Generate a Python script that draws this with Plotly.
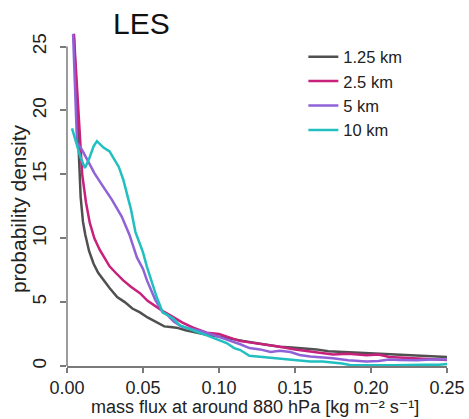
import plotly.graph_objects as go

# ---- data ----
labels = ["1.25 km", "2.5 km", "5 km", "10 km"]
colors = ["#505050", "#c8217c", "#8f62d8", "#22bfc0"]

x_125 = [0.0045, 0.0065, 0.008, 0.009, 0.0105, 0.012, 0.0145, 0.0175, 0.0205, 0.024,
         0.028, 0.033, 0.038, 0.043, 0.048, 0.053, 0.058, 0.064, 0.068, 0.072,
         0.078, 0.085, 0.092, 0.1, 0.108, 0.116, 0.124, 0.132, 0.14, 0.148,
         0.156, 0.164, 0.172, 0.18, 0.19, 0.2, 0.21, 0.22, 0.23, 0.24, 0.25]
y_125 = [26, 20, 16, 13.2, 11.3, 10.3, 9.0, 8.0, 7.3, 6.7,
         6.1, 5.4, 5.0, 4.5, 4.2, 3.8, 3.5, 3.1, 3.05, 3.0,
         2.8, 2.6, 2.45, 2.3, 2.1, 1.95, 1.8, 1.65, 1.5, 1.45,
         1.4, 1.3, 1.15, 1.1, 1.05, 1.0, 0.95, 0.86, 0.8, 0.75, 0.7]

x_25 = [0.0045, 0.007, 0.0085, 0.01, 0.0125, 0.015, 0.018, 0.0215, 0.025, 0.028,
        0.032, 0.037, 0.042, 0.048, 0.053, 0.059, 0.063, 0.066, 0.07, 0.076,
        0.083, 0.092, 0.1, 0.108, 0.114, 0.12, 0.13, 0.14, 0.15, 0.158,
        0.165, 0.175, 0.185, 0.197, 0.205, 0.212, 0.219, 0.23, 0.24, 0.25]
y_25 = [26, 21, 17.5, 15.0, 12.8, 11.2, 10.0, 9.1, 8.4, 7.8,
        7.3, 6.7, 6.2, 5.7, 5.1, 4.6, 4.3, 4.1, 3.8, 3.4,
        3.0, 2.6, 2.5, 2.2, 1.95, 1.85, 1.7, 1.5, 1.3, 1.15,
        1.05, 0.9, 0.95, 0.85, 0.9, 0.7, 0.65, 0.6, 0.55, 0.47]

x_5 = [0.004, 0.0066, 0.01, 0.014, 0.018, 0.024, 0.0296, 0.036, 0.041, 0.046,
       0.05, 0.0526, 0.058, 0.063, 0.066, 0.07, 0.075, 0.082, 0.089, 0.097,
       0.107, 0.114, 0.12, 0.127, 0.134, 0.14, 0.147, 0.153, 0.16, 0.168,
       0.175, 0.185, 0.197, 0.205, 0.212, 0.219, 0.23, 0.24, 0.25]
y_5 = [26, 17.5, 16.9, 16.0, 15.1, 14.0, 13.0, 11.7, 10.3, 8.5,
       7.6, 6.7, 5.2, 4.2, 4.0, 3.5, 3.1, 2.9, 2.7, 2.4,
       2.0, 1.7, 1.4, 1.3, 1.1, 1.2, 1.1, 0.86, 0.75, 0.7,
       0.6, 0.45, 0.35, 0.4, 0.5, 0.47, 0.45, 0.5, 0.5]

x_10 = [0.0033, 0.0065, 0.009, 0.0118, 0.0145, 0.0175, 0.0197, 0.024, 0.028, 0.031,
        0.034, 0.037, 0.039, 0.042, 0.045, 0.048, 0.05, 0.0525, 0.0546, 0.057,
        0.059, 0.061, 0.063, 0.066, 0.07, 0.074, 0.079, 0.085, 0.092, 0.098,
        0.105, 0.11, 0.114, 0.12, 0.13, 0.14, 0.15, 0.16, 0.168, 0.175,
        0.181, 0.186, 0.195, 0.205, 0.215, 0.225, 0.235, 0.245, 0.25]
y_10 = [18.6, 17.3, 16.3, 15.5, 16.2, 17.2, 17.6, 17.1, 16.8, 16.2,
        15.6, 14.6, 13.6, 12.3, 10.5, 9.6, 8.9, 7.8, 7.0, 6.1,
        5.4, 4.8, 4.2, 4.0, 3.7, 3.2, 3.0, 2.7, 2.4, 2.1,
        1.8, 1.4, 1.25, 0.8, 0.7, 0.6, 0.5, 0.35, 0.35, 0.3,
        0.2, 0.08, 0.05, 0.05, 0.05, 0.1, 0.1, 0.1, 0.15]

xs = [x_125, x_25, x_5, x_10]
ys = [y_125, y_25, y_5, y_10]

x_ticks = [0.0, 0.05, 0.10, 0.15, 0.20, 0.25]
x_ticktext = ["0.00", "0.05", "0.10", "0.15", "0.20", "0.25"]
y_ticks = [0, 5, 10, 15, 20, 25]

x_title = "mass flux at around 880 hPa [kg m⁻² s⁻¹]"
y_title = "probability density"
chart_title = "LES"

FONT = "Liberation Sans, Arial, DejaVu Sans, sans-serif"
AX = "#7a7a7a"
TXT = "#222222"

fig = go.Figure()
for xv, yv, lab, col in zip(xs, ys, labels, colors):
    fig.add_trace(go.Scatter(x=xv, y=yv, mode="lines", name=lab,
                             line=dict(color=col, width=2.5)))

fig.update_layout(
    width=469, height=419,
    margin=dict(l=67, r=22, t=30, b=53),
    paper_bgcolor="white", plot_bgcolor="white",
    font=dict(family=FONT, color=TXT),
    showlegend=True,
    legend=dict(x=0.622, y=0.972, xanchor="left", yanchor="top",
                font=dict(size=16.5, color=TXT), bgcolor="rgba(0,0,0,0)",
                borderwidth=0, tracegroupgap=0),
    xaxis=dict(range=[0, 0.25], tickvals=x_ticks, ticktext=x_ticktext, automargin=False,
               showgrid=False, zeroline=False, showline=True, linecolor=AX, linewidth=1.5,
               ticks="outside", ticklen=5, tickcolor=AX, tickwidth=1.5,
               ticklabelstandoff=0,
               tickfont=dict(size=18, color=TXT)),
    yaxis=dict(range=[0, 26.3], tickvals=y_ticks, automargin=False,
               showgrid=False, zeroline=False, showline=False,
               ticks="outside", ticklen=6, tickcolor=AX, tickwidth=1.5,
               tickangle=-90, ticklabelstandoff=6,
               tickfont=dict(size=19, color=TXT)),
    annotations=[
        dict(text=chart_title, xref="paper", yref="paper", x=0.197, y=1.02,
             xanchor="center", yanchor="middle", showarrow=False,
             font=dict(size=30, color="#111111", family=FONT)),
        dict(text=x_title, xref="paper", yref="paper", x=0.495, y=-0.158,
             xanchor="center", yanchor="bottom", showarrow=False,
             font=dict(size=18, color=TXT, family=FONT)),
        dict(text=y_title, xref="paper", yref="paper", x=-0.129, y=0.47,
             xanchor="center", yanchor="middle", showarrow=False, textangle=-90,
             font=dict(size=21, color=TXT, family=FONT)),
    ],
    shapes=[dict(type="line", xref="paper", yref="y", x0=0, x1=0, y0=0, y1=25,
                 line=dict(color=AX, width=1.5), layer="above")],
)

fig.write_html("out.html")
